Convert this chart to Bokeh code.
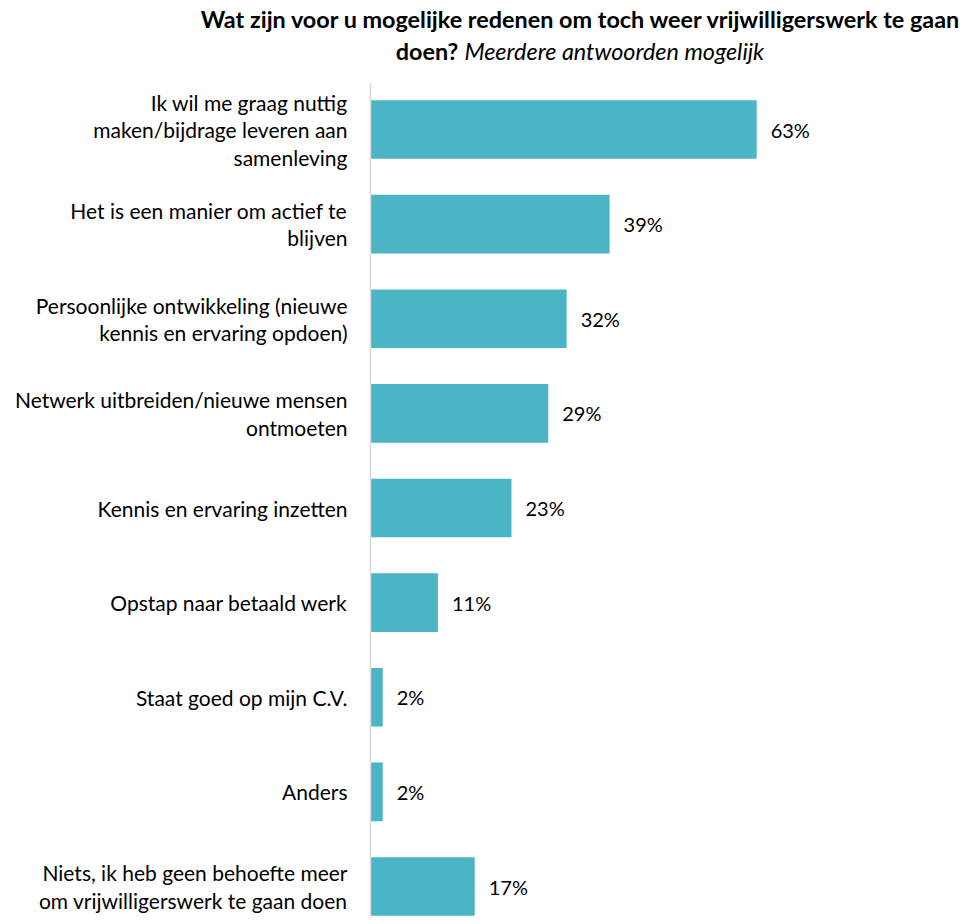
from bokeh.plotting import figure
from bokeh.models import Range1d, FixedTicker, Div, ColumnDataSource
from bokeh.layouts import column
from bokeh.core.properties import value
from bokeh.embed import file_html
from bokeh.resources import INLINE

categories = [
    "Ik wil me graag nuttig\nmaken/bijdrage leveren aan\nsamenleving",
    "Het is een manier om actief te\nblijven",
    "Persoonlijke ontwikkeling (nieuwe\nkennis en ervaring opdoen)",
    "Netwerk uitbreiden/nieuwe mensen\nontmoeten",
    "Kennis en ervaring inzetten",
    "Opstap naar betaald werk",
    "Staat goed op mijn C.V.",
    "Anders",
    "Niets, ik heb geen behoefte meer\nom vrijwilligerswerk te gaan doen",
]
values = [63, 39, 32, 29, 23, 11, 2, 2, 17]
value_labels = [f"{v}%" for v in values]

FONT = "Lato"
BAR = "#4BB4C5"

pos = list(range(len(categories)))
src = ColumnDataSource(dict(y=pos, v=values, lab=value_labels))

title = Div(
    text=(
        '<div style="width:766px; margin-left:192px; margin-top:-2px; text-align:center; font-family:Lato; '
        'font-size:23.4px; line-height:32px; color:#000; white-space:nowrap;">'
        '<b>Wat zijn voor u mogelijke redenen om toch weer vrijwilligerswerk te gaan</b><br>'
        '<b>doen?</b> <i>Meerdere antwoorden mogelijk</i></div>'
    ),
    width=956, height=66,
)

p = figure(
    width=956, height=842,
    x_range=Range1d(0, 95.6),
    y_range=Range1d(8.338, -0.497),
    output_backend="svg", toolbar_location=None,
    min_border_left=370, min_border_top=6, min_border_bottom=0, min_border_right=0,
)
p.hbar(y="y", right="v", left=0, height=0.62, source=src, color=BAR, line_color=None)
p.text(x="v", y="y", text="lab", source=src, x_offset=14,
       text_font=value(FONT), text_font_size="20px", text_color="#000",
       text_baseline="middle", text_align="left")

p.xaxis.visible = False
p.xgrid.grid_line_color = None
p.ygrid.grid_line_color = None
p.outline_line_color = None

ax = p.yaxis[0]
ax.ticker = FixedTicker(ticks=pos)
ax.major_label_overrides = {i: c for i, c in enumerate(categories)}
ax.major_tick_line_color = None
ax.minor_tick_line_color = None
ax.axis_line_color = "#D9D9D9"
ax.axis_line_width = 1.5
ax.major_label_text_font = FONT
ax.major_label_text_font_size = "21px"
ax.major_label_text_color = "#000"
ax.major_label_text_align = "center"
ax.major_label_text_line_height = 1.1
ax.major_label_standoff = 17

layout = column(title, p, spacing=0)
open("out.html", "w").write(file_html(layout, INLINE))
